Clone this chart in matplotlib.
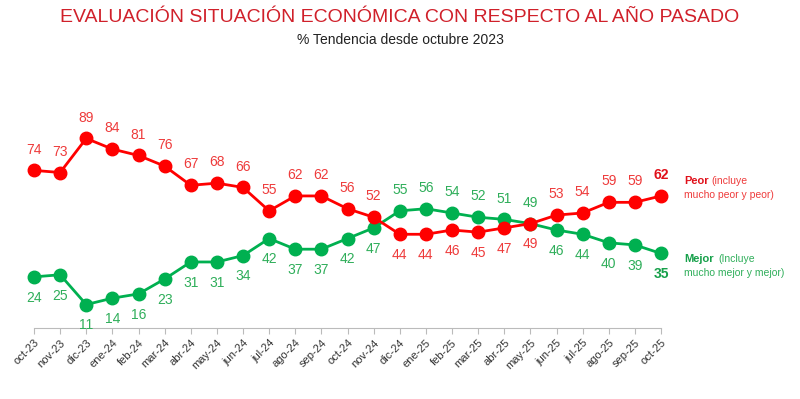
import matplotlib
matplotlib.use("Agg")
import matplotlib.pyplot as plt

plt.rcParams['font.family'] = ['Liberation Sans', 'DejaVu Sans']

meses = ['oct-23', 'nov-23', 'dic-23', 'ene-24', 'feb-24', 'mar-24', 'abr-24', 'may-24',
         'jun-24', 'jul-24', 'ago-24', 'sep-24', 'oct-24', 'nov-24', 'dic-24', 'ene-25',
         'feb-25', 'mar-25', 'abr-25', 'may-25', 'jun-25', 'jul-25', 'ago-25', 'sep-25', 'oct-25']
peor = [74, 73, 89, 84, 81, 76, 67, 68, 66, 55, 62, 62, 56, 52, 44, 44, 46, 45, 47, 49, 53, 54, 59, 59, 62]
mejor = [24, 25, 11, 14, 16, 23, 31, 31, 34, 42, 37, 37, 42, 47, 55, 56, 54, 52, 51, 49, 46, 44, 40, 39, 35]

ROJO = '#FF0000'
ROJO_TXT = '#EE3B3B'
VERDE = '#00B050'
VERDE_TXT = '#2FAE5A'

fig = plt.figure(figsize=(8, 3.99), dpi=100)
ax = fig.add_axes([34 / 800, 71 / 399, 627 / 800, 213 / 399])

x = list(range(len(meses)))
ax.plot(x, peor, color=ROJO, lw=2, marker='o', ms=9, clip_on=False, zorder=3)
ax.plot(x, mejor, color=VERDE, lw=2, marker='o', ms=9, clip_on=False, zorder=2)

n = len(meses)
for i in range(n):
    # en mayo-25 empatan: peor va abajo, mejor arriba (como en el original)
    arriba = peor[i] > mejor[i]
    last = i == n - 1
    fw = 'bold' if last else 'normal'
    cr = '#E0101A' if last else ROJO_TXT
    cv = '#16A04A' if last else VERDE_TXT
    off = 15 if arriba else -15
    ax.annotate(str(peor[i]), (i, peor[i]), xytext=(0, off), textcoords='offset points',
                ha='center', va='center', fontsize=10, color=cr, fontweight=fw)
    ax.annotate(str(mejor[i]), (i, mejor[i]), xytext=(0, -off), textcoords='offset points',
                ha='center', va='center', fontsize=10, color=cv, fontweight=fw)

ax.set_xlim(0, n - 1)
ax.set_ylim(0, 100)
ax.set_xticks(x)
ax.set_xticklabels(meses, rotation=45, ha='right', rotation_mode='anchor', fontsize=8, color='#333333')
ax.set_yticks([])
for s in ['top', 'right', 'left']:
    ax.spines[s].set_visible(False)
ax.spines['bottom'].set_color('#BBBBBB')
ax.tick_params(axis='x', length=4, color='#BBBBBB', pad=3)

# leyendas a la derecha
fig.text(684 / 800, 1 - 181 / 399, 'Peor', color='#E0101A', fontsize=8, fontweight='bold', va='center')
fig.text(711 / 800, 1 - 181 / 399, '(incluye', color=ROJO_TXT, fontsize=7.5, va='center')
fig.text(684 / 800, 1 - 195 / 399, 'mucho peor y peor)', color=ROJO_TXT, fontsize=7.5, va='center')
fig.text(684 / 800, 1 - 259 / 399, 'Mejor', color='#16A04A', fontsize=8, fontweight='bold', va='center')
fig.text(718 / 800, 1 - 259 / 399, '(Incluye', color=VERDE_TXT, fontsize=7.5, va='center')
fig.text(684 / 800, 1 - 273 / 399, 'mucho mejor y mejor)', color=VERDE_TXT, fontsize=7.5, va='center')

fig.text(0.5, 1 - 17 / 399, 'EVALUACIÓN SITUACIÓN ECONÓMICA CON RESPECTO AL AÑO PASADO',
         ha='center', va='center', fontsize=14, color='#D0202A')
fig.text(0.5, 1 - 40 / 399, '% Tendencia desde octubre 2023', ha='center', va='center',
         fontsize=10, color='#222222')

fig.savefig('out.png', dpi=100)
